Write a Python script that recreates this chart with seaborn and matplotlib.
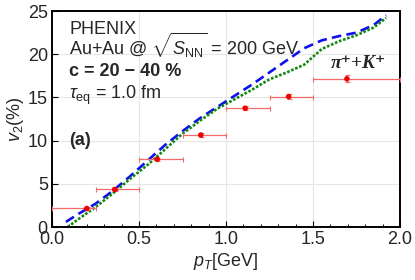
import numpy as np
import pandas as pd
import seaborn as sns
import matplotlib.pyplot as plt
from matplotlib.ticker import MultipleLocator

# data
pt_data = [0.2, 0.36, 0.605, 0.855, 1.11, 1.36, 1.695]
v2_data = [2.15, 4.35, 7.85, 10.65, 13.75, 15.1, 17.15]
v2_err = [0.15, 0.2, 0.2, 0.2, 0.25, 0.3, 0.4]
bin_lo = [0.0, 0.25, 0.5, 0.75, 1.0, 1.25, 1.5]
bin_hi = [0.25, 0.5, 0.75, 1.0, 1.25, 1.5, 2.0]

pt_blue = [0.08, 0.15, 0.25, 0.35, 0.45, 0.55, 0.65, 0.75, 0.85, 0.95,
           1.05, 1.15, 1.25, 1.35, 1.45, 1.55, 1.65, 1.75, 1.85, 1.92]
v2_blue = [0.6, 1.5, 2.7, 4.2, 5.9, 7.7, 9.5, 11.1, 12.6, 13.9,
           15.2, 16.5, 17.9, 19.3, 20.7, 21.6, 22.1, 22.5, 23.4, 24.5]

pt_green = [0.09, 0.15, 0.25, 0.35, 0.45, 0.55, 0.65, 0.75, 0.85, 0.95,
            1.05, 1.15, 1.25, 1.35, 1.45, 1.55, 1.65, 1.75, 1.85, 1.92]
v2_green = [0.0, 0.9, 2.3, 3.9, 5.6, 7.2, 9.0, 10.8, 12.3, 13.7,
            14.8, 15.9, 17.1, 17.9, 18.8, 20.6, 21.5, 22.2, 23.1, 24.2]

sns.set_style("whitegrid")
plt.rcParams['font.family'] = ['Liberation Sans', 'DejaVu Sans']
plt.rcParams['mathtext.fontset'] = 'custom'
plt.rcParams['mathtext.rm'] = 'Liberation Sans'
plt.rcParams['mathtext.it'] = 'Liberation Sans:italic'
plt.rcParams['mathtext.bf'] = 'Liberation Sans:bold'

fig = plt.figure(figsize=(4.15, 2.80), dpi=100)
ax = fig.add_axes([0.1253, 0.189, 0.8386, 0.7717])

df_blue = pd.DataFrame({"pt": pt_blue, "v2": v2_blue})
df_green = pd.DataFrame({"pt": pt_green, "v2": v2_green})
sns.lineplot(data=df_blue, x="pt", y="v2", ax=ax, color="#1010ee",
             linewidth=1.9, sort=False)
ax.lines[-1].set_dashes([3.6, 2.0])
sns.lineplot(data=df_green, x="pt", y="v2", ax=ax, color="#118811",
             linewidth=1.9, sort=False)
ax.lines[-1].set_dashes([1, 0.65])

# experimental points with bin widths
pt_arr = np.array(pt_data)
xerr = [pt_arr - np.array(bin_lo), np.array(bin_hi) - pt_arr]
ax.errorbar(pt_data, v2_data, xerr=xerr, yerr=v2_err, fmt='none',
            ecolor='#f26a6a', elinewidth=0.9, capsize=1.8, capthick=0.8,
            zorder=3)
sns.scatterplot(x=pt_data, y=v2_data, ax=ax, color='#ee0000', s=16,
                edgecolor='none', zorder=4)

ax.set_xlim(0, 2.0)
ax.set_ylim(0, 25)
ax.xaxis.set_major_locator(MultipleLocator(0.5))
ax.xaxis.set_minor_locator(MultipleLocator(0.1))
ax.yaxis.set_major_locator(MultipleLocator(5))
ax.grid(True, which='major', color='#e6e6e6', linewidth=0.8)
ax.set_axisbelow(True)
ax.tick_params(which='both', direction='in', top=False, right=False,
               bottom=True, left=True, labelsize=13, color='black', pad=3)
ax.tick_params(which='major', length=4, width=0.8)
ax.tick_params(which='minor', length=2.5, width=0.7)
ax.tick_params(axis='y', which='minor', left=False)
ax.xaxis.set_major_formatter(plt.FuncFormatter(lambda v, p: f"{v:.1f}"))
for s in ax.spines.values():
    s.set_color('black')
    s.set_linewidth(1.4)

ax.set_xlabel(r"$p_T$[GeV]", fontsize=13, labelpad=2)
ax.set_ylabel(r"$v_2$(%)", fontsize=13, labelpad=1)

ax.text(0.098, 22.3, "PHENIX", fontsize=13)
ax.text(0.098, 19.9, r"Au+Au @ $\sqrt{S_{\rm NN}}$ = 200 GeV", fontsize=13)
ax.text(0.098, 17.5, "c = 20 − 40 %", fontsize=13, fontweight='bold')
ax.text(0.098, 14.8, r"$\tau_{\rm eq}$ = 1.0 fm", fontsize=13)
ax.text(0.098, 9.5, "(a)", fontsize=13, fontweight='bold')
ax.text(1.6, 18.35, "π⁺+K⁺", fontsize=14, fontweight='bold',
        fontstyle='italic', family=['Liberation Serif', 'DejaVu Serif'])

fig.savefig("out.png", dpi=100)
